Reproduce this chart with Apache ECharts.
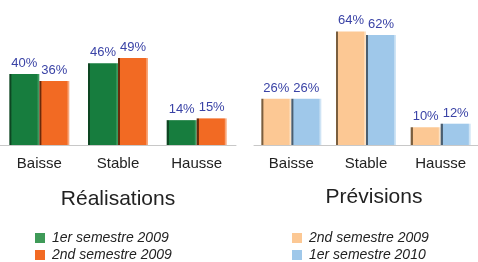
<!DOCTYPE html>
<html>
<head>
<meta charset="utf-8">
<script src="https://cdn.jsdelivr.net/npm/echarts@6/dist/echarts.min.js"></script>
<style>
  html, body { margin: 0; padding: 0; background: #fff; }
  #chart { width: 478px; height: 262px; }
</style>
</head>
<body>
<div id="chart"></div>
<script>
// categories
const categories = ['Baisse', 'Stable', 'Hausse']
// Réalisations
const real1erSem2009 = [40, 46, 14]
const real2ndSem2009 = [36, 49, 15]
// Prévisions
const prev2ndSem2009 = [26, 64, 10]
const prev1erSem2010 = [26, 62, 12]

const font = 'Liberation Sans, Arial, sans-serif'

// bar fill with a bit of bevel (dark left edge, light right edge)
function bevel(dark, main, light) {
  return new echarts.graphic.LinearGradient(0, 0, 1, 0, [
    { offset: 0, color: dark },
    { offset: 0.06, color: dark },
    { offset: 0.08, color: main },
    { offset: 0.92, color: main },
    { offset: 0.96, color: light },
    { offset: 1, color: light }
  ])
}

const labelStyle = {
  show: true,
  position: 'top',
  distance: 4,
  formatter: '{c}%',
  color: '#3a43a6',
  fontSize: 13,
  fontFamily: font
}

function xAxis(gridIndex) {
  return {
    type: 'category',
    gridIndex: gridIndex,
    data: categories,
    axisTick: { show: false },
    axisLine: { lineStyle: { color: '#c8c8c8', width: 1 } },
    axisLabel: { color: '#222', fontSize: 15, margin: 11, fontFamily: font }
  }
}

function yAxis(gridIndex) {
  return { type: 'value', gridIndex: gridIndex, min: 0, max: 80, show: false }
}

function bars(name, data, idx, fill) {
  return {
    name: name,
    type: 'bar',
    xAxisIndex: idx,
    yAxisIndex: idx,
    data: data,
    barWidth: 30,
    barGap: '0%',
    itemStyle: { color: fill },
    label: labelStyle
  }
}

// one legend per entry so each can be placed like the original
function legendItem(name, color, left, top) {
  return {
    data: [{ name: name, itemStyle: { color: color } }],
    left: left,
    top: top,
    padding: 0,
    itemWidth: 10,
    itemHeight: 10,
    itemGap: 0,
    icon: 'rect',
    textStyle: { color: '#222', fontSize: 14, fontStyle: 'italic', fontFamily: font, padding: [0, 0, 0, 2] }
  }
}

const chart = echarts.init(document.getElementById('chart'))
chart.setOption({
  animation: false,
  backgroundColor: '#fff',
  title: [
    {
      text: 'Réalisations',
      left: 113,
      top: 184,
      textAlign: 'center',
      textStyle: { color: '#222', fontSize: 21, fontWeight: 'normal', fontFamily: font }
    },
    {
      text: 'Prévisions',
      left: 369,
      top: 182,
      textAlign: 'center',
      textStyle: { color: '#222', fontSize: 21, fontWeight: 'normal', fontFamily: font }
    }
  ],
  legend: [
    legendItem('1er semestre 2009', '#3f9a58', 35, 231),
    legendItem('2nd semestre 2009 ', '#f26a23', 35, 248),
    legendItem('2nd semestre 2009', '#fcc894', 292, 231),
    legendItem('1er semestre 2010', '#9fc8ea', 292, 248)
  ],
  grid: [
    { left: -3, width: 239, top: 3, bottom: 117 },
    { left: 254, width: 236, top: 3, bottom: 117 }
  ],
  xAxis: [xAxis(0), xAxis(1)],
  yAxis: [yAxis(0), yAxis(1)],
  series: [
    bars('1er semestre 2009', real1erSem2009, 0, bevel('#0d4622', '#177d3e', '#3c9a5f')),
    bars('2nd semestre 2009 ', real2ndSem2009, 0, bevel('#6b2a0a', '#f26a23', '#f8a679')),
    bars('2nd semestre 2009', prev2ndSem2009, 1, bevel('#7a5e3e', '#fcc894', '#fde2c4')),
    bars('1er semestre 2010', prev1erSem2010, 1, bevel('#4a5e70', '#9fc8ea', '#cfe4f5'))
  ]
})
</script>
</body>
</html>
